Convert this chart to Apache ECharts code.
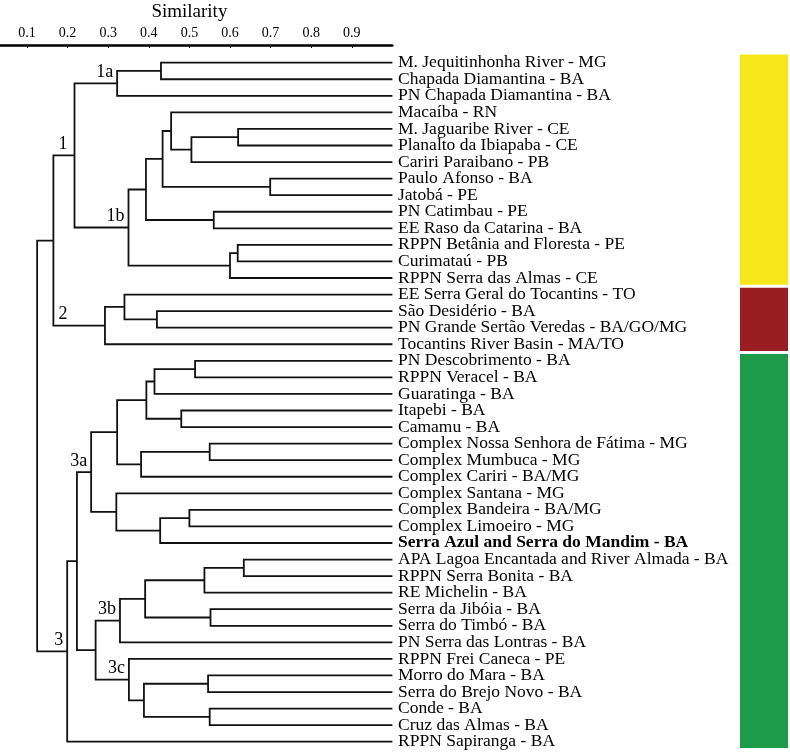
<!DOCTYPE html>
<html>
<head>
<meta charset="utf-8">
<style>
  html, body { margin: 0; padding: 0; background: #fff; }
  #container { width: 790px; height: 752px; }
</style>
<script src="https://cdn.jsdelivr.net/npm/echarts@6/dist/echarts.min.js"></script>
</head>
<body>
<div id="container"></div>
<script>
// leaves, top to bottom
var leaves = [
  'M. Jequitinhonha River - MG',
  'Chapada Diamantina - BA',
  'PN Chapada Diamantina - BA',
  'Macaíba - RN',
  'M. Jaguaribe River - CE',
  'Planalto da Ibiapaba - CE',
  'Cariri Paraibano - PB',
  'Paulo Afonso - BA',
  'Jatobá - PE',
  'PN Catimbau - PE',
  'EE Raso da Catarina - BA',
  'RPPN Betânia and Floresta - PE',
  'Curimataú - PB',
  'RPPN Serra das Almas - CE',
  'EE Serra Geral do Tocantins - TO',
  'São Desidério - BA',
  'PN Grande Sertão Veredas - BA/GO/MG',
  'Tocantins River Basin - MA/TO',
  'PN Descobrimento - BA',
  'RPPN Veracel - BA',
  'Guaratinga - BA',
  'Itapebi - BA',
  'Camamu - BA',
  'Complex Nossa Senhora de Fátima - MG',
  'Complex Mumbuca - MG',
  'Complex Cariri - BA/MG',
  'Complex Santana - MG',
  'Complex Bandeira - BA/MG',
  'Complex Limoeiro - MG',
  'Serra Azul and Serra do Mandim - BA',
  'APA Lagoa Encantada and River Almada - BA',
  'RPPN Serra Bonita - BA',
  'RE Michelin - BA',
  'Serra da Jibóia - BA',
  'Serra do Timbó - BA',
  'PN Serra das Lontras - BA',
  'RPPN Frei Caneca - PE',
  'Morro do Mara - BA',
  'Serra do Brejo Novo - BA',
  'Conde - BA',
  'Cruz das Almas - BA',
  'RPPN Sapiranga - BA'
];
var boldLeaf = 'Serra Azul and Serra do Mandim - BA';

// merges: [similarity, child, child, cluster label]; numbers alone are leaf indexes
var tree = [0.125,
  [0.165,
    [0.217,
      [0.322, [0.430, 0, 1], 2, '1a'],
      [0.350,
        [0.393,
          [0.434, [0.455, 3, [0.505, [0.620, 4, 5], 6]], [0.699, 7, 8]],
          [0.560, 9, 10]],
        [0.600, [0.619, 11, 12], 13], '1b'], '1'],
    [0.292, [0.340, 14, [0.420, 15, 16]], 17, '2']],
  [0.199,
    [0.223,
      [0.258,
        [0.322,
          [0.394, [0.414, [0.514, 18, 19], 20], [0.480, 21, 22]],
          [0.381, [0.550, 23, 24], 25]],
        [0.320, 26, [0.428, [0.500, 27, 28], 29]], '3a'],
      [0.269,
        [0.329,
          [0.391, [0.537, [0.634, 30, 31], 32], [0.552, 33, 34]],
          35, '3b'],
        [0.351, 36, [0.388, [0.546, 37, 38], [0.550, 39, 40]], '3c']]],
    41, '3']];

// groups of leaves shown by the coloured bars on the right
var groups = [[0, 13], [14, 17], [18, 41]];
var groupColors = ['#f5e71a', '#991d21', '#1d9b4a'];

var nodes = [];
function layout(n) {
  if (typeof n === 'number') return { x: 1, y: n };
  var a = layout(n[1]);
  var b = layout(n[2]);
  nodes.push({ sim: n[0], xa: a.x, ya: a.y, xb: b.x, yb: b.y, label: n[3] });
  return { x: n[0], y: (a.y + b.y) / 2 };
}
layout(tree);

var font = 'Liberation Serif, Times New Roman, serif';
var labelShift = { '1': 7 };

var dom = document.getElementById('container');
var myChart = echarts.init(dom);

var option = {
  animation: false,
  grid: [
    { left: -13.6, width: 406, top: 54.4, height: 695.6, containLabel: false, outerBoundsMode: 'none' },
    { left: 740, width: 48, top: 54.4, height: 695.6, containLabel: false, outerBoundsMode: 'none' },
    // thin grid that only carries the similarity scale
    { left: -13.6, width: 406, top: 44, height: 1, containLabel: false, outerBoundsMode: 'none' }
  ],
  xAxis: [
    { type: 'value', min: 0, max: 1, show: false },
    { gridIndex: 1, type: 'value', min: 0, max: 1, show: false },
    {
      gridIndex: 2,
      type: 'value',
      position: 'top',
      min: 0,
      max: 1,
      interval: 0.1,
      name: 'Similarity',
      nameLocation: 'middle',
      nameGap: 22,
      nameTextStyle: { fontFamily: font, fontSize: 19, color: '#000' },
      axisLine: { lineStyle: { color: '#000', width: 2.5 } },
      axisTick: { inside: true, length: 3, lineStyle: { color: '#000' } },
      axisLabel: {
        showMinLabel: false,
        showMaxLabel: false,
        margin: 4,
        fontFamily: font,
        fontSize: 14,
        color: '#000',
        formatter: function (v) { return v.toFixed(1); }
      },
      splitLine: { show: false }
    }
  ],
  yAxis: [
    {
      type: 'category',
      data: leaves,
      inverse: true,
      position: 'right',
      axisLine: { show: false },
      axisTick: { show: false },
      axisLabel: {
        interval: 0,
        margin: 5.6,
        fontFamily: font,
        fontSize: 17.5,
        color: '#000',
        formatter: function (v) { return v === boldLeaf ? '{b|' + v + '}' : v; },
        rich: { b: { fontFamily: font, fontSize: 17.5, fontWeight: 'bold', color: '#000' } }
      }
    },
    { type: 'value', min: -0.5, max: 41.5, inverse: true, show: false },
    { gridIndex: 1, type: 'value', min: -0.5, max: 41.5, inverse: true, show: false },
    { gridIndex: 2, type: 'value', min: 0, max: 1, show: false }
  ],
  series: [
    {
      type: 'custom',
      xAxisIndex: 0,
      yAxisIndex: 1,
      silent: true,
      data: nodes.map(function (n) { return [n.sim, (n.ya + n.yb) / 2]; }),
      renderItem: function (params, api) {
        var n = nodes[params.dataIndex];
        var pA = api.coord([n.xa, n.ya]);
        var pB = api.coord([n.xb, n.yb]);
        var nA = api.coord([n.sim, n.ya]);
        var nB = api.coord([n.sim, n.yb]);
        var children = [{
          type: 'polyline',
          shape: { points: [pA, nA, nB, pB] },
          style: { stroke: '#111', lineWidth: 1.8, fill: null }
        }];
        if (n.label) {
          // label sits on the branch that leads into this node
          var mid = api.coord([n.sim, (n.ya + n.yb) / 2]);
          var tx = mid[0] - (labelShift[n.label] || 4);
          var align = 'right';
          if (n.label === '2') {
            tx = api.coord([0.165, 0])[0] + 5;
            align = 'left';
          }
          children.push({
            type: 'text',
            style: {
              text: n.label,
              x: tx,
              y: mid[1] - 2,
              align: align,
              verticalAlign: 'bottom',
              font: '18px ' + font,
              fill: '#000'
            }
          });
        }
        return { type: 'group', children: children };
      }
    },
    {
      type: 'custom',
      xAxisIndex: 1,
      yAxisIndex: 2,
      silent: true,
      data: groups.map(function (g) { return [0.5, (g[0] + g[1]) / 2]; }),
      renderItem: function (params, api) {
        var g = groups[params.dataIndex];
        var p0 = api.coord([0, g[0] - 0.5]);
        var p1 = api.coord([1, g[1] + 0.5]);
        var top = p0[1] + (g[0] === 0 ? 0 : 1.5);
        var bottom = p1[1] - (g[1] === leaves.length - 1 ? 2 : 1.5);
        return {
          type: 'rect',
          shape: { x: p0[0], y: top, width: p1[0] - p0[0], height: bottom - top },
          style: { fill: groupColors[params.dataIndex] }
        };
      }
    }
  ]
};

myChart.setOption(option);
window.onresize = function () {
  myChart.resize();
};
</script>
</body>
</html>
